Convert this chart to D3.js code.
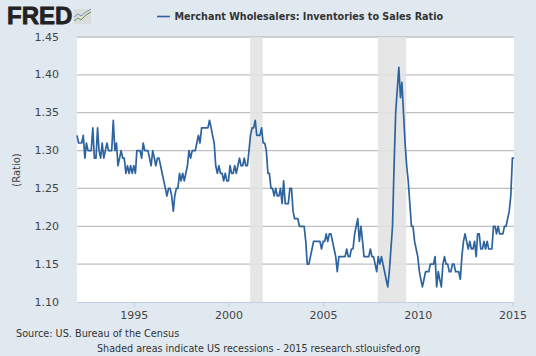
<!DOCTYPE html>
<html><head><meta charset="utf-8">
<script src="https://cdn.jsdelivr.net/npm/d3@7"></script>
<style>html,body{margin:0;padding:0;background:#e1e9f0}svg{display:block}text{font-family:"DejaVu Sans",sans-serif}</style>
</head><body><svg id="c" width="536" height="356"></svg>
<script>
const seriesName = "Merchant Wholesalers: Inventories to Sales Ratio";
const yTicks = [1.10,1.15,1.20,1.25,1.30,1.35,1.40,1.45];
const xTickYears = [1995,2000,2005,2010,2015];
const recessions = [["2001-03-01","2001-11-01"],["2007-12-01","2009-06-01"]];
const firstMonth = "1992-01-01";
const values1992 = [1.32,1.31,1.31,1.31,1.32,1.29,1.31,1.30,1.30,1.30,1.33,1.29];
const values1993 = [1.29,1.33,1.30,1.29,1.31,1.29,1.30,1.31,1.30,1.30,1.30,1.34];
const values1994 = [1.30,1.31,1.28,1.29,1.30,1.29,1.29,1.27,1.28,1.27,1.28,1.27];
const values1995 = [1.28,1.27,1.30,1.30,1.30,1.29,1.31,1.30,1.30,1.30,1.29,1.28];
const values1996 = [1.30,1.29,1.28,1.29,1.29,1.28,1.27,1.26,1.25,1.24,1.25,1.25];
const values1997 = [1.24,1.22,1.24,1.25,1.25,1.27,1.26,1.27,1.26,1.27,1.28,1.30];
const values1998 = [1.29,1.30,1.30,1.30,1.31,1.32,1.31,1.33,1.33,1.33,1.33,1.33];
const values1999 = [1.34,1.33,1.32,1.31,1.28,1.27,1.28,1.27,1.27,1.26,1.27,1.26];
const values2000 = [1.26,1.28,1.27,1.27,1.28,1.27,1.28,1.29,1.28,1.28,1.29,1.28];
const values2001 = [1.28,1.30,1.32,1.33,1.33,1.34,1.32,1.32,1.32,1.33,1.31,1.31];
const values2002 = [1.30,1.27,1.27,1.25,1.25,1.24,1.25,1.24,1.24,1.25,1.23,1.26];
const values2003 = [1.23,1.23,1.23,1.25,1.25,1.22,1.21,1.21,1.21,1.20,1.20,1.20];
const values2004 = [1.20,1.18,1.15,1.15,1.16,1.17,1.18,1.18,1.18,1.18,1.18,1.17];
const values2005 = [1.18,1.18,1.19,1.18,1.19,1.19,1.18,1.17,1.16,1.14,1.16,1.16];
const values2006 = [1.16,1.16,1.16,1.17,1.16,1.16,1.17,1.17,1.19,1.20,1.21,1.18];
const values2007 = [1.20,1.18,1.16,1.16,1.16,1.16,1.17,1.16,1.16,1.15,1.14,1.16];
const values2008 = [1.15,1.16,1.15,1.14,1.13,1.12,1.14,1.17,1.20,1.28,1.35,1.38];
const values2009 = [1.41,1.37,1.39,1.35,1.31,1.28,1.26,1.23,1.20,1.20,1.18,1.17];
const values2010 = [1.16,1.14,1.13,1.12,1.13,1.14,1.14,1.14,1.15,1.15,1.15,1.16];
const values2011 = [1.12,1.14,1.13,1.12,1.15,1.16,1.15,1.15,1.14,1.14,1.15,1.15];
const values2012 = [1.14,1.14,1.14,1.13,1.16,1.18,1.19,1.18,1.17,1.18,1.17,1.17];
const values2013 = [1.18,1.16,1.19,1.19,1.17,1.17,1.18,1.17,1.18,1.17,1.17,1.17];
const values2014 = [1.20,1.20,1.19,1.20,1.19,1.19,1.19,1.20,1.20,1.21,1.22,1.24];
const values2015 = [1.29,1.29];
const values = [].concat(values1992,values1993,values1994,values1995,values1996,values1997,values1998,values1999,values2000,values2001,values2002,values2003,values2004,values2005,values2006,values2007,values2008,values2009,values2010,values2011,values2012,values2013,values2014,values2015);

const parse = d3.utcParse("%Y-%m-%d");
const start = parse(firstMonth);
const months = values.map((_,i)=>d3.utcMonth.offset(start,i));
const L=77,R=514,T=37,B=302;
const x = d3.scaleUtc().domain([start,months[months.length-1]]).range([L,R]);
const y = d3.scaleLinear().domain([1.10,1.45]).range([B,T]);
const svg = d3.select("#c");

svg.append("rect").attr("width",536).attr("height",356).attr("fill","#e1e9f0");
svg.append("rect").attr("x",L).attr("y",T).attr("width",R-L).attr("height",B-T).attr("fill","#fff");

// grid
const gy = svg.append("g").attr("transform",`translate(${L},0)`)
  .call(d3.axisLeft(y).tickValues(yTicks).tickFormat(d3.format(".2f")).tickSize(-(R-L)).tickPadding(18).offset(0));
gy.select(".domain").remove();
gy.selectAll(".tick line").attr("stroke","#c0c0c0").attr("stroke-width",1.3);
gy.selectAll(".tick").filter(d=>d===1.10).select("line").remove();
gy.selectAll(".tick text").attr("font-size",11).attr("fill","#444").style("font-family",'"DejaVu Sans"');

// recession bands
svg.selectAll("rect.rec").data(recessions).enter().append("rect").attr("class","rec")
  .attr("x",d=>x(parse(d[0]))-0.4).attr("y",T)
  .attr("width",d=>x(parse(d[1]))-x(parse(d[0]))).attr("height",B-T)
  .attr("fill","#e2e2e2").attr("opacity",0.88);

// x axis
const gx = svg.append("g").attr("transform",`translate(0,${B})`)
  .call(d3.axisBottom(x).tickValues(xTickYears.map(v=>new Date(Date.UTC(v,0,1)))).tickFormat(d3.utcFormat("%Y")).tickSize(5).tickSizeOuter(0).tickPadding(4));
gx.select(".domain").attr("stroke","#c0d0e0").attr("stroke-width",1);
gx.selectAll(".tick line").attr("stroke","#c0d0e0");
gx.selectAll(".tick text").attr("font-size",11).attr("fill","#444").style("font-family",'"DejaVu Sans"');

// line
svg.append("path").datum(values)
  .attr("fill","none").attr("stroke","#2d639f").attr("stroke-width",1.7).attr("stroke-linejoin","round")
  .attr("d",d3.line().x((_,i)=>x(months[i])).y(d=>y(d)));

// legend
svg.append("line").attr("x1",157).attr("x2",170).attr("y1",16.5).attr("y2",16.5).attr("stroke","#2d639f").attr("stroke-width",1.6);
svg.append("text").attr("x",174.5).attr("y",20).attr("font-size",9.65).attr("font-weight","bold").attr("fill","#333").text(seriesName);

// y title
svg.append("text").attr("transform","translate(20,170) rotate(-90)").attr("text-anchor","middle").attr("font-size",10).attr("fill","#444").text("(Ratio)");

// footer
svg.append("text").attr("x",16).attr("y",337).attr("font-size",9.7).attr("fill","#333").text("Source: US. Bureau of the Census");
svg.append("text").attr("x",97).attr("y",352).attr("font-size",9.6).attr("fill","#333").text("Shaded areas indicate US recessions - 2015 research.stlouisfed.org");

// logo
svg.append("text").attr("x",7).attr("y",24).attr("font-size",24).attr("font-weight","bold").attr("fill","#222").attr("stroke","#222").attr("stroke-width",0.8).style("font-family",'"Liberation Sans"').text("FRED");
const logo = svg.append("g");
logo.append("rect").attr("x",74).attr("y",9).attr("width",17).attr("height",15).attr("fill","#d8dcdc");
const logoLine = d3.line();
logo.append("path").attr("d",logoLine([[74,21],[78,18],[81,20],[86,15],[91,12]])).attr("fill","none").attr("stroke","#6a9a3a").attr("stroke-width",1);
logo.append("path").attr("d",logoLine([[74,17],[78,14],[81,16],[86,12],[91,9]])).attr("fill","none").attr("stroke","#7a95b5").attr("stroke-width",1);
</script></body></html>
